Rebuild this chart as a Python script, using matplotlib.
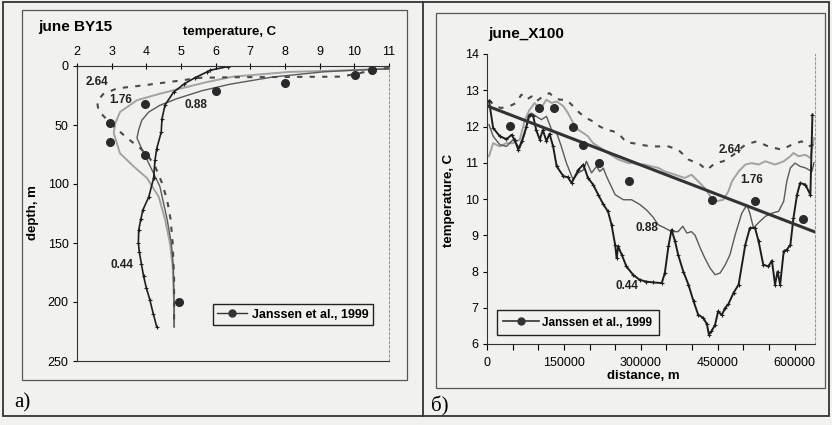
import matplotlib
matplotlib.use("Agg")
import matplotlib.pyplot as plt
from matplotlib.patches import Rectangle
from matplotlib.lines import Line2D
import numpy as np

# ---------- panel a: june BY15, temperature vs depth ----------
p044_temp = [6.35, 5.84, 5.75, 5.4, 5.1, 4.79, 4.54, 4.45, 4.43, 4.3, 4.25, 4.21, 4.07,
             3.9, 3.84, 3.78, 3.77, 3.8, 3.86, 3.92, 4.0, 4.1, 4.2, 4.3]
p044_depth = [0.5, 3.6, 5, 10, 15, 22, 33, 45, 56, 70, 80, 95, 111,
              122, 130, 139, 150, 158, 168, 178, 188, 198, 210, 221]

p088_temp = [11.0, 10.0, 9.1, 7.65, 6.4, 5.6, 4.88, 4.39, 4.07, 3.87, 3.78, 3.73, 3.88,
             4.21, 4.39, 4.6, 4.72, 4.78, 4.8, 4.8]
p088_depth = [2.5, 3.5, 5, 9.3, 15.5, 21, 27.7, 33.3, 39, 46, 54, 61, 71,
              91, 102, 130, 150, 170, 200, 221]

p176_temp = [11.0, 10.1, 8.14, 6.5, 5.75, 5.0, 4.39, 3.73, 3.24, 3.1, 3.06, 3.24, 3.63,
             4.02, 4.36, 4.54, 4.68, 4.76, 4.8, 4.8]
p176_depth = [2, 3.4, 5, 9, 13.6, 19, 23.5, 29, 39, 49, 57, 74, 85,
              95, 111, 130, 150, 170, 200, 221]

p264_temp = [11.0, 10.65, 10.1, 9.6, 8.0, 6.5, 5.55, 4.88, 3.92, 3.15, 2.75, 2.58, 2.62,
             2.95, 3.44, 3.82, 4.07, 4.25, 4.45, 4.6, 4.7, 4.76, 4.8, 4.8]
p264_depth = [1.7, 2.5, 6.5, 9, 9.3, 9.5, 10, 12.7, 16.4, 19, 24, 30, 38,
              48, 61, 69.5, 77, 85, 99, 113.6, 130, 150, 180, 221]

jan_a_temp = [10.52, 10.02, 8.0, 6.01, 3.97, 2.96, 2.96, 3.97, 4.95]
jan_a_depth = [3.1, 7.3, 14, 21, 32.5, 48, 64, 75.7, 200]

# ---------- panel b: june_X100, temperature along the section ----------
s044_km = [4, 12, 25, 38, 48, 54, 61, 68, 77, 83, 90, 96, 103, 109, 116, 122, 129, 136,
           149, 158, 165, 178, 188, 197, 207, 217, 227, 236, 243, 250, 253, 256, 263,
           272, 285, 298, 311, 324, 341, 347, 354, 360, 367, 373, 383, 393, 403, 412,
           422, 429, 433, 438, 445, 451, 458, 465, 471, 481, 491, 504, 513, 523, 530,
           539, 549, 556, 562, 567, 572, 579, 585, 592, 598, 605, 611, 621, 631, 635]
s044_t = [12.7, 11.96, 11.73, 11.65, 11.77, 11.63, 11.36, 11.6, 12.0, 12.33, 12.3, 11.9,
          11.64, 11.9, 11.6, 11.8, 11.45, 10.9, 10.63, 10.6, 10.44, 10.8, 10.95, 10.58,
          10.4, 10.12, 9.85, 9.66, 9.29, 8.74, 8.37, 8.69, 8.46, 8.14, 7.91, 7.77, 7.72,
          7.7, 7.68, 7.96, 8.69, 9.15, 8.83, 8.46, 8.0, 7.64, 7.18, 6.81, 6.72, 6.55,
          6.26, 6.35, 6.53, 6.9, 6.8, 7.0, 7.1, 7.41, 7.64, 8.74, 9.2, 9.2, 8.83, 8.19,
          8.14, 8.3, 7.64, 8.0, 7.64, 8.56, 8.6, 8.74, 9.48, 10.12, 10.44, 10.4, 10.12, 12.33]

s088_km = [4, 12, 25, 38, 51, 64, 74, 80, 87, 96, 106, 116, 126, 136, 145, 155, 168, 178,
           188, 194, 204, 214, 220, 227, 233, 250, 266, 282, 298, 311, 324, 334, 347,
           360, 373, 382, 390, 399, 406, 416, 425, 435, 445, 455, 465, 474, 484, 497,
           507, 513, 520, 530, 543, 556, 569, 579, 585, 592, 601, 611, 621, 634, 638]
s088_t = [12.05, 11.73, 11.5, 11.45, 11.64, 11.4, 11.8, 12.28, 12.37, 12.28, 12.19, 12.28,
          11.91, 11.82, 11.45, 10.99, 10.53, 10.72, 10.8, 11.04, 10.72, 10.9, 10.76, 10.85,
          10.63, 10.12, 9.98, 9.98, 9.85, 9.7, 9.5, 9.29, 9.2, 9.1, 9.1, 9.25, 9.06, 9.1,
          9.0, 8.65, 8.37, 8.1, 7.91, 7.96, 8.19, 8.46, 9.0, 9.6, 9.84, 9.6, 9.2, 9.35,
          9.52, 9.61, 9.66, 9.94, 10.49, 10.86, 10.99, 10.9, 10.86, 10.76, 11.0]

s176_km = [4, 12, 25, 38, 51, 64, 74, 83, 93, 103, 116, 126, 136, 149, 158, 168, 178, 188,
           197, 207, 217, 227, 236, 246, 256, 266, 276, 285, 295, 308, 321, 334, 347, 367,
           386, 399, 412, 425, 438, 448, 461, 471, 478, 491, 504, 517, 530, 543, 562, 579,
           592, 598, 608, 621, 631, 638]
s176_t = [11.18, 11.54, 11.45, 11.54, 11.54, 11.64, 12.19, 12.46, 12.65, 12.46, 12.74,
          12.65, 12.69, 12.56, 12.37, 12.1, 11.91, 11.82, 11.73, 11.54, 11.45, 11.36, 11.27,
          11.18, 11.09, 11.04, 10.99, 10.99, 10.95, 10.95, 10.9, 10.86, 10.76, 10.67, 10.58,
          10.67, 10.49, 10.3, 10.03, 9.94, 9.98, 10.21, 10.49, 10.76, 10.95, 10.99, 10.95,
          11.04, 10.95, 11.04, 11.18, 11.27, 11.18, 11.22, 11.13, 11.68]

s264_km = [4, 15, 28, 44, 57, 67, 77, 87, 96, 109, 122, 132, 142, 155, 168, 181, 194, 207,
           220, 233, 246, 259, 272, 285, 298, 321, 354, 373, 393, 416, 429, 445, 461, 481,
           504, 526, 549, 575, 595, 614, 627, 637]
s264_t = [12.74, 12.56, 12.51, 12.56, 12.65, 12.88, 12.74, 12.83, 12.69, 12.83, 12.92,
          12.79, 12.74, 12.74, 12.56, 12.37, 12.23, 12.14, 12.0, 11.91, 11.87, 11.77, 11.56,
          11.54, 11.5, 11.45, 11.45, 11.36, 11.09, 10.95, 10.8, 10.99, 11.04, 11.22, 11.5,
          11.59, 11.45, 11.36, 11.5, 11.59, 11.45, 11.5]

jan_b_km = [44, 102, 130, 168, 188, 218, 277, 439, 522, 616]
jan_b_t = [12.02, 12.51, 12.51, 12.0, 11.48, 10.99, 10.51, 9.98, 9.95, 9.45]
trend_km = [0, 640]
trend_t = [12.57, 9.09]

W, H = 832, 425
paper = "#f1f1ef"
plt.rcParams["font.family"] = ["Liberation Sans", "DejaVu Sans"]

fig = plt.figure(figsize=(W / 100, H / 100), dpi=100, facecolor=paper)


def fx(px):
    return px / W


def fy(py):
    return 1 - py / H


def box(x0, y0, x1, y1, lw=1.0, color="#444444"):
    fig.add_artist(Rectangle((fx(x0), fy(y1)), fx(x1) - fx(x0), fy(y0) - fy(y1),
                             transform=fig.transFigure, fill=False, lw=lw, ec=color))


# frames of the scanned figure
box(3, 2, 829, 416, lw=1.3, color="#333333")
fig.add_artist(Line2D([fx(423), fx(423)], [fy(2), fy(416)], transform=fig.transFigure,
                      lw=1.3, color="#333333"))
box(22, 10, 407, 380, lw=0.9, color="#555555")
box(436, 13, 825, 388, lw=0.9, color="#555555")

c_044 = "#1e1e1e"
c_088 = "#5a5a5a"
c_176 = "#a2a2a2"
c_264 = "#4a4a4a"

# ---------------- panel a ----------------
ax1 = fig.add_axes([fx(77), fy(361), fx(389) - fx(77), fy(66) - fy(361)], facecolor=paper)
ax1.plot(p176_temp, p176_depth, color=c_176, lw=1.4)
ax1.plot(p088_temp, p088_depth, color=c_088, lw=1.0)
ax1.plot(p264_temp, p264_depth, color=c_264, lw=1.5, ls=(0, (2.5, 3.5)))
ax1.plot(p044_temp, p044_depth, color=c_044, lw=1.2, marker="+", ms=3, mew=0.8)
ax1.plot(jan_a_temp, jan_a_depth, ls="none", marker="o", ms=5.5, color="#2a2a2a")
ax1.set_xlim(2, 11)
ax1.set_ylim(250, 0)
ax1.set_xticks(range(2, 12))
ax1.set_yticks(range(0, 251, 50))
ax1.xaxis.tick_top()
ax1.tick_params(axis="x", direction="inout", length=4, pad=4, labelsize=9)
ax1.tick_params(axis="y", direction="out", length=3, pad=3, labelsize=9)
ax1.spines["right"].set_color("#9a9a9a")
ax1.spines["right"].set_linestyle((0, (2, 2)))
for s in ("top", "left", "bottom"):
    ax1.spines[s].set_color("#333333")
for txt, t, d in [("2.64", 2.58, 13.6), ("1.76", 3.25, 29), ("0.88", 5.42, 33),
                  ("0.44", 3.3, 169)]:
    ax1.text(t, d, txt, ha="center", va="center", fontsize=8.5, fontweight="bold",
             color="#222222")
h1 = Line2D([], [], color="#333333", lw=1.0, marker="o", ms=5)
ax1.legend([h1], ["Janssen et al., 1999"], loc="lower right",
           bbox_to_anchor=(0.949, 0.122), borderaxespad=0, fancybox=False,
           edgecolor="#222222", framealpha=1, facecolor=paper, handlelength=2.4,
           handletextpad=0.4, borderpad=0.35, prop={"size": 9, "weight": "bold"})

fig.text(fx(38), fy(27), "june BY15", fontsize=11, fontweight="bold", va="center")
fig.text(fx(230), fy(32), "temperature, C", fontsize=9.5, fontweight="bold",
         ha="center", va="center")
fig.text(fx(33), fy(213), "depth, m", fontsize=9.5, fontweight="bold", rotation=90,
         ha="center", va="center")
fig.text(fx(22), fy(403), "а)", fontsize=15, family="Liberation Serif",
         ha="center", va="center")

# ---------------- panel b ----------------
ax2 = fig.add_axes([fx(487), fy(344), fx(815) - fx(487), fy(54) - fy(344)], facecolor=paper)
km = 1000
ax2.plot(np.array(s176_km) * km, s176_t, color=c_176, lw=1.4)
ax2.plot(np.array(s088_km) * km, s088_t, color=c_088, lw=1.0)
ax2.plot(np.array(s264_km) * km, s264_t, color=c_264, lw=1.5, ls=(0, (2.5, 3.5)))
ax2.plot(np.array(s044_km) * km, s044_t, color=c_044, lw=1.4, marker="+", ms=3, mew=0.8)
ax2.plot(np.array(trend_km) * km, trend_t, color="#333333", lw=2.2)
ax2.plot(np.array(jan_b_km) * km, jan_b_t, ls="none", marker="o", ms=5.5, color="#2a2a2a")
ax2.set_xlim(0, 640000)
ax2.set_ylim(6, 14)
xt = np.arange(0, 650000, 50000)
ax2.set_xticks(xt)
ax2.set_xticklabels([str(v) if v % 150000 == 0 else "" for v in xt])
ax2.set_yticks(range(6, 15))
ax2.tick_params(axis="x", direction="out", length=4, pad=5, labelsize=9)
ax2.tick_params(axis="y", direction="out", length=3, pad=3, labelsize=9)
ax2.spines["top"].set_visible(False)
ax2.spines["right"].set_color("#9a9a9a")
ax2.spines["right"].set_linestyle((0, (2, 2)))
for s in ("left", "bottom"):
    ax2.spines[s].set_color("#333333")
for txt, d, t in [("2.64", 474300, 11.36), ("1.76", 516700, 10.53),
                  ("0.88", 311400, 9.2), ("0.44", 272300, 7.59)]:
    ax2.text(d, t, txt, ha="center", va="center", fontsize=8.5, fontweight="bold",
             color="#222222")
h2 = Line2D([], [], color="#333333", lw=1.2, marker="o", ms=5)
ax2.legend([h2], ["Janssen et al., 1999"], loc="lower left",
           bbox_to_anchor=(0.03, 0.031), borderaxespad=0, fancybox=False,
           edgecolor="#222222", framealpha=1, facecolor=paper, handlelength=3.0,
           handletextpad=0.3, borderpad=0.55, prop={"size": 8.5, "weight": "bold"})

fig.text(fx(488), fy(34), "june_X100", fontsize=11, fontweight="bold", va="center")
fig.text(fx(449), fy(200), "temperature, C", fontsize=9.5, fontweight="bold",
         rotation=90, ha="center", va="center")
fig.text(fx(643), fy(376), "distance, m", fontsize=9.5, fontweight="bold",
         ha="center", va="center")
fig.text(fx(440), fy(406), "б)", fontsize=15, family="Liberation Serif",
         ha="center", va="center")

fig.savefig("out.png", dpi=100, facecolor=paper)
